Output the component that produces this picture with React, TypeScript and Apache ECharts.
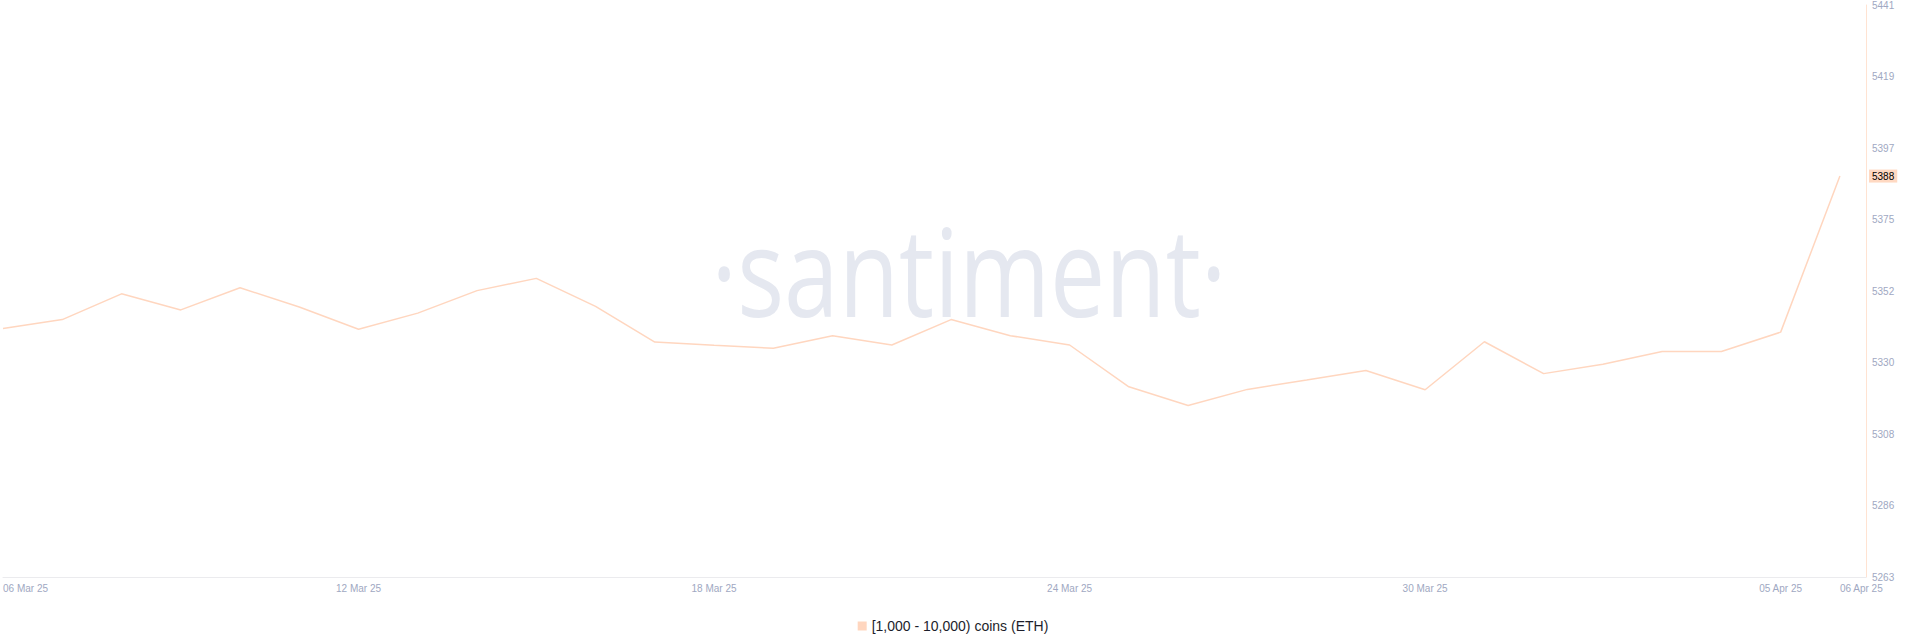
import React, { useEffect, useRef } from "react";
import * as echarts from "echarts";

const dates: string[] = [
  "2025-03-06", "2025-03-07", "2025-03-08", "2025-03-09", "2025-03-10", "2025-03-11",
  "2025-03-12", "2025-03-13", "2025-03-14", "2025-03-15", "2025-03-16", "2025-03-17",
  "2025-03-18", "2025-03-19", "2025-03-20", "2025-03-21", "2025-03-22", "2025-03-23",
  "2025-03-24", "2025-03-25", "2025-03-26", "2025-03-27", "2025-03-28", "2025-03-29",
  "2025-03-30", "2025-03-31", "2025-04-01", "2025-04-02", "2025-04-03", "2025-04-04",
  "2025-04-05", "2025-04-06",
];

const holders: number[] = [
  5340.6, 5343.4, 5351.4, 5346.4, 5353.3, 5347.3,
  5340.4, 5345.4, 5352.4, 5356.2, 5347.5, 5336.4,
  5335.4, 5334.5, 5338.4, 5335.5, 5343.4, 5338.4,
  5335.5, 5322.5, 5316.7, 5321.7, 5324.6, 5327.6,
  5321.6, 5336.5, 5326.6, 5329.5, 5333.5, 5333.5,
  5339.5, 5388.0,
];

const xTickDates: string[] = [
  "2025-03-06", "2025-03-12", "2025-03-18", "2025-03-24", "2025-03-30", "2025-04-05", "2025-04-06",
];

const seriesName = "[1,000 - 10,000) coins (ETH)";
const yMin = 5263.4;
const yMax = 5441.16;
const yStep = 22.22;
const xPadDays = 0.44;

const MONTHS = ["Jan", "Feb", "Mar", "Apr", "May", "Jun", "Jul", "Aug", "Sep", "Oct", "Nov", "Dec"];
const DAY = 86400000;

function fmtDate(v: number): string {
  const d = new Date(v);
  const dd = String(d.getUTCDate()).padStart(2, "0");
  const yy = String(d.getUTCFullYear()).slice(2);
  return `${dd} ${MONTHS[d.getUTCMonth()]} ${yy}`;
}

export default function App() {
  const ref = useRef<HTMLDivElement>(null);

  useEffect(() => {
    document.body.style.margin = "0";
    if (!ref.current) return;
    const chart = echarts.init(ref.current, null, { renderer: "svg" });
    const times = dates.map((d) => Date.parse(d));
    const lastValue = holders[holders.length - 1];
    const labelColor = "#a0a8c2";
    const font = "Liberation Sans";

    chart.setOption({
      animation: false,
      backgroundColor: "#ffffff",
      grid: { left: 0, right: 40, top: 5, bottom: 65 },
      graphic: [
        {
          type: "text",
          x: 969,
          y: 270,
          scaleX: 0.8,
          z: 0,
          silent: true,
          style: {
            text: "·santiment·",
            fontSize: 123,
            fontWeight: 500,
            fontFamily: "Open Sans",
            fill: "#e5e8f0",
            align: "center",
            verticalAlign: "middle",
          },
        },
      ],
      xAxis: {
        type: "value",
        min: times[0],
        max: times[times.length - 1] + xPadDays * DAY,
        axisLine: { show: true, lineStyle: { color: "#ebebee", width: 1 } },
        axisTick: { show: false },
        splitLine: { show: false },
        axisLabel: {
          customValues: xTickDates.map((d) => Date.parse(d)),
          formatter: (v: number) => fmtDate(v),
          color: labelColor,
          fontSize: 10,
          fontFamily: font,
          margin: 6,
          alignMinLabel: "left",
          alignMaxLabel: "left",
        },
      },
      yAxis: {
        type: "value",
        position: "right",
        min: yMin,
        max: yMax,
        interval: yStep,
        axisLine: { show: true, lineStyle: { color: "#ffe3d2", width: 1 } },
        axisTick: { show: false },
        splitLine: { show: false },
        axisLabel: {
          formatter: (v: number) => String(Math.round(v)),
          color: labelColor,
          fontSize: 10,
          fontFamily: font,
          margin: 6,
          showMinLabel: true,
          showMaxLabel: true,
        },
      },
      legend: {
        data: [seriesName],
        left: "center",
        top: 614,
        icon: "rect",
        itemWidth: 9,
        itemHeight: 9,
        textStyle: { fontSize: 14, color: "#1c1e2b", fontFamily: font },
      },
      series: [
        {
          name: seriesName,
          type: "line",
          data: times.map((t, i) => [t, holders[i]]),
          showSymbol: false,
          z: 3,
          itemStyle: { color: "#ffd6bf" },
          lineStyle: { color: "#ffd6bf", width: 1.5 },
          markLine: {
            silent: true,
            symbol: "none",
            lineStyle: { color: "rgba(0,0,0,0)", width: 0, type: "solid" },
            data: [{ yAxis: lastValue }],
            label: {
              show: true,
              position: "end",
              distance: 3,
              formatter: (p: any) => String(Math.round(p.value)),
              color: "#000000",
              backgroundColor: "#ffd9c2",
              padding: [2, 3, 1, 3],
              fontSize: 10,
              fontFamily: font,
            },
          },
        },
      ],
    });

    return () => chart.dispose();
  }, []);

  return <div ref={ref} style={{ width: 1906, height: 642 }} />;
}
